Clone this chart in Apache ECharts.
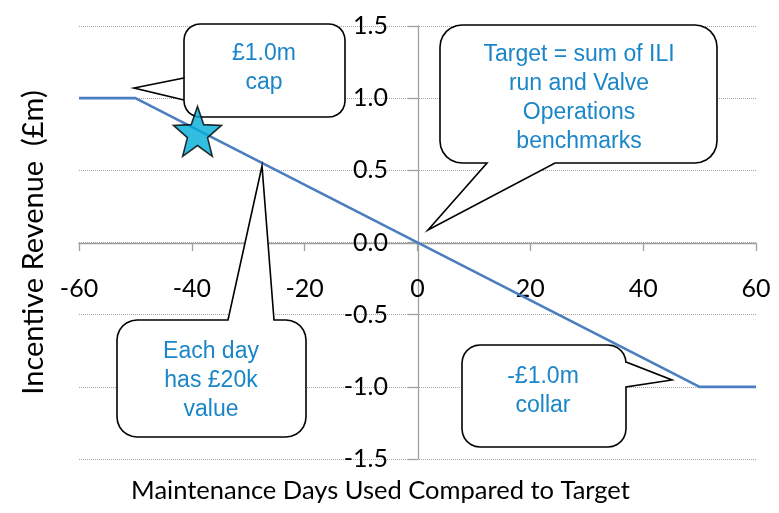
<!DOCTYPE html>
<html>
<head>
<meta charset="utf-8">
<script src="https://cdn.jsdelivr.net/npm/echarts@6/dist/echarts.min.js"></script>
<style>
  html, body { margin: 0; padding: 0; background: #fff; }
  #chart { width: 779px; height: 513px; }
</style>
</head>
<body>
<div id="chart"></div>
<script>
// data
const days = [-60, -50, 50, 60];
const revenue = [1.0, 1.0, -1.0, -1.0];
const starPoint = [-39, 0.77];

const xName = 'Maintenance Days Used Compared to Target';
const yName = 'Incentive Revenue  (£m)';

const capText = '£1.0m\ncap';
const targetText = 'Target = sum of ILI\nrun and Valve\nOperations\nbenchmarks';
const dayText = 'Each day\nhas £20k\nvalue';
const collarText = '-£1.0m\ncollar';

const axisFont = 'Lato, "Open Sans", sans-serif';
const noteFont = '"Liberation Sans", Arial, sans-serif';
const noteColor = '#1a86c8';

// five pointed star for the marker
const starPath = (() => {
  let d = '';
  for (let i = 0; i < 10; i++) {
    const a = (-90 + 36 * i) * Math.PI / 180;
    const r = i % 2 === 0 ? 50 : 21;
    d += (i === 0 ? 'M' : 'L') + (50 + r * Math.cos(a)).toFixed(2) + ' ' + (50 + r * Math.sin(a)).toFixed(2);
  }
  return 'path://' + d + 'Z';
})();

// quarter arc points for a rounded corner
const corner = (cx, cy, r, startDeg) => {
  const pts = [];
  for (let k = 0; k <= 6; k++) {
    const a = (startDeg + k * 15) * Math.PI / 180;
    pts.push([cx + r * Math.cos(a), cy + r * Math.sin(a)]);
  }
  return pts;
};

// rounded box with a wedge tail, side = top/right/bottom/left
const bubble = (x, y, w, h, r, side, p1, tip, p2) => {
  const x2 = x + w, y2 = y + h;
  let pts = [];
  pts = pts.concat(corner(x + r, y + r, r, 180));
  if (side === 'top') pts.push([p1, y], tip, [p2, y]);
  pts = pts.concat(corner(x2 - r, y + r, r, 270));
  if (side === 'right') pts.push([x2, p1], tip, [x2, p2]);
  pts = pts.concat(corner(x2 - r, y2 - r, r, 0));
  if (side === 'bottom') pts.push([p1, y2], tip, [p2, y2]);
  pts = pts.concat(corner(x + r, y2 - r, r, 90));
  if (side === 'left') pts.push([x, p1], tip, [x, p2]);
  return {
    type: 'polygon',
    z: 5,
    shape: { points: pts },
    style: { fill: '#fff', stroke: '#000', lineWidth: 1.6 }
  };
};

const note = (cx, top, text) => ({
  type: 'text',
  z: 6,
  x: cx,
  y: top,
  style: {
    text: text,
    fill: noteColor,
    font: '23px ' + noteFont,
    align: 'center',
    verticalAlign: 'top',
    lineHeight: 29
  }
});

const chart = echarts.init(document.getElementById('chart'));

// axes cross at zero: shift them from the grid edges with offset
const gridBox = { left: 79, right: 23, top: 26, bottom: 54 };

chart.setOption({
  backgroundColor: '#fff',
  animation: false,
  grid: Object.assign({ containLabel: false, outerBoundsMode: 'none' }, gridBox),
  xAxis: {
    type: 'value',
    min: -60,
    max: 60,
    interval: 20,
    position: 'bottom',
    offset: -216,
    name: xName,
    nameLocation: 'middle',
    nameGap: 235,
    nameTextStyle: { fontFamily: axisFont, fontSize: 25.5, color: '#000', padding: [0, 74, 0, 0] },
    axisLine: { onZero: false, lineStyle: { color: '#a0a0a0', width: 1.3 } },
    axisTick: { show: true, length: 8, lineStyle: { color: '#a0a0a0', width: 1.3 } },
    axisLabel: { margin: 33, fontFamily: axisFont, fontSize: 25, color: '#000' },
    splitLine: { show: false }
  },
  yAxis: {
    type: 'value',
    min: -1.5,
    max: 1.5,
    interval: 0.5,
    position: 'left',
    offset: -339,
    name: yName,
    nameLocation: 'middle',
    nameGap: 370,
    nameTextStyle: { fontFamily: axisFont, fontSize: 29, color: '#000' },
    axisLine: { show: true, onZero: false, lineStyle: { color: '#a0a0a0', width: 1.3 } },
    axisTick: { show: true, length: 10, lineStyle: { color: '#a0a0a0', width: 1.3 } },
    axisLabel: {
      margin: 30,
      fontFamily: axisFont,
      fontSize: 25,
      color: '#000',
      formatter: v => v.toFixed(1)
    },
    splitLine: { show: true, lineStyle: { color: '#a6a6a6', type: 'dotted', width: 1 } }
  },
  series: [
    {
      type: 'line',
      data: days.map((d, i) => [d, revenue[i]]),
      showSymbol: false,
      lineStyle: { color: '#4a7ebf', width: 2.6 },
      z: 2
    },
    {
      type: 'scatter',
      data: [starPoint],
      symbol: starPath,
      symbolSize: [48, 50],
      itemStyle: { color: '#00aed8', borderColor: '#000', borderWidth: 1.6 },
      z: 10
    }
  ],
  graphic: [
    bubble(184, 24, 161, 93, 16, 'left', 78, [134, 88], 100),
    note(264, 39, capText),
    bubble(440, 25, 277, 138, 22, 'bottom', 555, [428, 230], 487),
    note(579, 40, targetText),
    bubble(117, 320, 189, 117, 20, 'top', 228, [262, 166], 274),
    note(211, 337, dayText),
    bubble(462, 345, 164, 102, 18, 'right', 362, [672, 380], 387),
    note(543, 362, collarText)
  ]
});
</script>
</body>
</html>
